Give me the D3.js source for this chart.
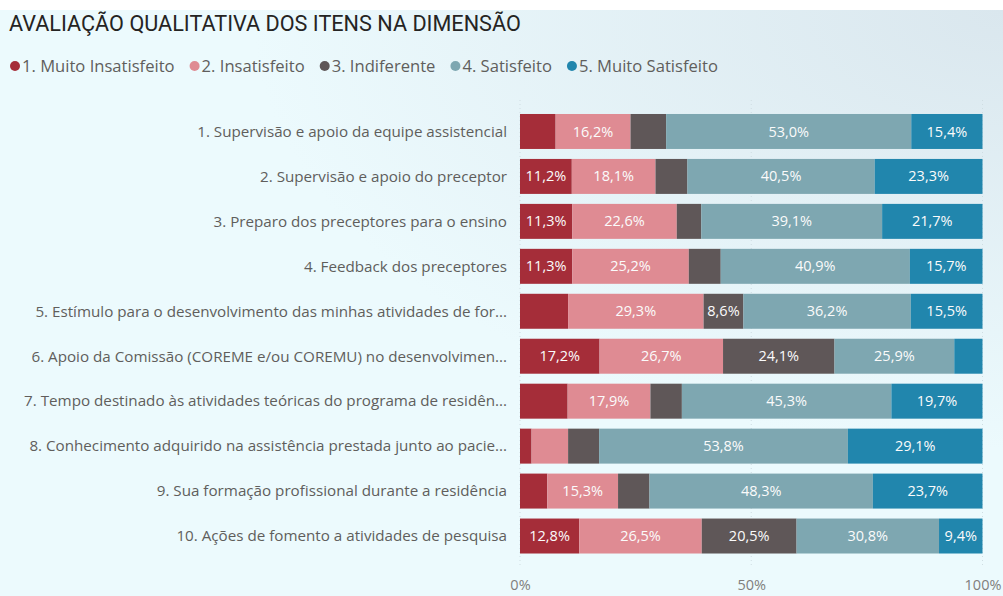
<!DOCTYPE html>
<html>
<head>
<meta charset="utf-8">
<script src="https://cdn.jsdelivr.net/npm/d3@7"></script>
<style>
  html, body { margin: 0; padding: 0; background: #fff; }
  svg { display: block; }
</style>
</head>
<body>
<svg id="chart" width="1003" height="596"></svg>
<script>
const title = 'AVALIAÇÃO QUALITATIVA DOS ITENS NA DIMENSÃO';

const categories = [
  '1. Supervisão e apoio da equipe assistencial',
  '2. Supervisão e apoio do preceptor',
  '3. Preparo dos preceptores para o ensino',
  '4. Feedback dos preceptores',
  '5. Estímulo para o desenvolvimento das minhas atividades de for...',
  '6. Apoio da Comissão (COREME e/ou COREMU) no desenvolvimen...',
  '7. Tempo destinado às atividades teóricas do programa de residên...',
  '8. Conhecimento adquirido na assistência prestada junto ao pacie...',
  '9. Sua formação profissional durante a residência',
  '10. Ações de fomento a atividades de pesquisa'
];

const seriesNames = ['1. Muito Insatisfeito', '2. Insatisfeito', '3. Indiferente', '4. Satisfeito', '5. Muito Satisfeito'];

// percent per category, one array per series
const muitoInsatisfeito = [7.7, 11.2, 11.3, 11.3, 10.4, 17.2, 10.3, 2.5, 5.9, 12.8];
const insatisfeito      = [16.2, 18.1, 22.6, 25.2, 29.3, 26.7, 17.9, 7.9, 15.3, 26.5];
const indiferente       = [7.7, 6.9, 5.3, 6.9, 8.6, 24.1, 6.8, 6.7, 6.8, 20.5];
const satisfeito        = [53.0, 40.5, 39.1, 40.9, 36.2, 25.9, 45.3, 53.8, 48.3, 30.8];
const muitoSatisfeito   = [15.4, 23.3, 21.7, 15.7, 15.5, 6.1, 19.7, 29.1, 23.7, 9.4];

// segments whose value is not printed in the chart ("row:series")
const hiddenLabels = ['0:0', '0:2', '1:2', '2:2', '3:2', '4:0', '5:4', '6:0', '6:2', '7:0', '7:1', '7:2', '8:0', '8:2'];

const xTicks = [0, 50, 100];

const colors = ['#a52d39', '#df8b93', '#5f5758', '#7ea7b1', '#2186ad'];

const svg = d3.select('#chart');
const W = 1003, H = 596;

// background
const defs = svg.append('defs');
const grad = defs.append('radialGradient')
  .attr('id', 'bg')
  .attr('cx', '100%').attr('cy', '0%').attr('r', '75%');
grad.append('stop').attr('offset', '0%').attr('stop-color', '#dae7ee');
grad.append('stop').attr('offset', '100%').attr('stop-color', '#ecfafd');

svg.append('rect').attr('width', W).attr('height', H).attr('fill', '#fff');
svg.append('rect').attr('y', 10).attr('width', W).attr('height', H - 10).attr('fill', 'url(#bg)');

const rows = categories.map((c, i) => {
  const vals = [muitoInsatisfeito[i], insatisfeito[i], indiferente[i], satisfeito[i], muitoSatisfeito[i]];
  let acc = 0;
  return {
    name: c,
    segs: vals.map((v, s) => {
      const seg = { row: i, series: s, x0: acc, x1: acc + v, value: v };
      acc += v;
      return seg;
    })
  };
});

const x = d3.scaleLinear().domain([0, 100]).range([520, 982.5]);
const y = d3.scaleBand()
  .domain(categories)
  .range([109, 558.5])
  .paddingInner(0.222)
  .paddingOuter(0.111);

const fmt = (v) => d3.format('.1f')(v).replace('.', ',') + '%';

// fit a text element's font size to a target width
function fitWidth(sel, target) {
  const fs = parseFloat(sel.attr('font-size'));
  const w = sel.node().getComputedTextLength();
  sel.attr('font-size', (fs * target / w).toFixed(2));
}

// title
const t = svg.append('text')
  .attr('x', 9)
  .attr('y', 31)
  .attr('font-family', 'Roboto, sans-serif')
  .attr('font-size', 19)
  .attr('fill', '#252423')
  .text(title);
fitWidth(t, 512);

// legend: sized so it spans from x=10 to x=718
const legend = svg.append('g').attr('class', 'legend');
const legendGap = 15, dotR = 5, dotToText = 12;
const legTexts = legend.selectAll('text')
  .data(seriesNames)
  .join('text')
  .attr('y', 71.5)
  .attr('font-family', '"Open Sans", sans-serif')
  .attr('font-size', 15)
  .attr('fill', '#605e5c')
  .text((d) => d);
{
  const widths = legTexts.nodes().map((n) => n.getComputedTextLength());
  const total = d3.sum(widths);
  const avail = 718 - 10 - seriesNames.length * dotToText - (seriesNames.length - 1) * legendGap;
  const fs = 15 * avail / total;
  legTexts.attr('font-size', fs.toFixed(2));
  let lx = 10;
  legTexts.each(function(d, i) {
    legend.append('circle')
      .attr('cx', lx + dotR)
      .attr('cy', 66)
      .attr('r', dotR)
      .attr('fill', colors[i]);
    d3.select(this).attr('x', lx + dotToText);
    lx += dotToText + this.getComputedTextLength() + legendGap;
  });
}

// grid
svg.append('g')
  .selectAll('line')
  .data(xTicks)
  .join('line')
  .attr('x1', (d) => x(d))
  .attr('x2', (d) => x(d))
  .attr('y1', 100)
  .attr('y2', 568)
  .attr('stroke', '#cfdde2')
  .attr('stroke-dasharray', '1,3');

// category labels
const catLabels = svg.append('g').selectAll('text')
  .data(categories)
  .join('text')
  .attr('x', 507)
  .attr('y', (d) => y(d) + y.bandwidth() / 2)
  .attr('dy', '0.35em')
  .attr('text-anchor', 'end')
  .attr('font-family', '"Open Sans", sans-serif')
  .attr('font-size', 14)
  .attr('fill', '#605e5c')
  .text((d) => d);
{
  const first = catLabels.filter((d, i) => i === 0);
  fitWidth(first, 310);
  catLabels.attr('font-size', first.attr('font-size'));
}

// bars
const barG = svg.append('g')
  .selectAll('g')
  .data(rows)
  .join('g')
  .attr('transform', (d) => `translate(0,${y(d.name)})`);

barG.selectAll('rect')
  .data((d) => d.segs)
  .join('rect')
  .attr('x', (d) => x(d.x0))
  .attr('width', (d) => x(d.x1) - x(d.x0))
  .attr('height', y.bandwidth())
  .attr('fill', (d) => colors[d.series]);

barG.selectAll('text')
  .data((d) => d.segs.filter((s) => !hiddenLabels.includes(`${s.row}:${s.series}`)))
  .join('text')
  .attr('x', (d) => (x(d.x0) + x(d.x1)) / 2)
  .attr('y', y.bandwidth() / 2)
  .attr('dy', '0.35em')
  .attr('text-anchor', 'middle')
  .attr('font-family', '"Open Sans", sans-serif')
  .attr('font-size', 14.5)
  .attr('fill', '#fbfbfb')
  .text((d) => fmt(d.value));

// x axis
const xAxis = svg.append('g')
  .attr('transform', 'translate(0,574)')
  .call(d3.axisBottom(x).tickValues(xTicks).tickSize(0).tickPadding(6).tickFormat((d) => d + '%'));
xAxis.select('.domain').remove();
xAxis.selectAll('text')
  .attr('font-family', '"Open Sans", sans-serif')
  .attr('font-size', 14.5)
  .attr('fill', '#807e7c');
</script>
</body>
</html>
